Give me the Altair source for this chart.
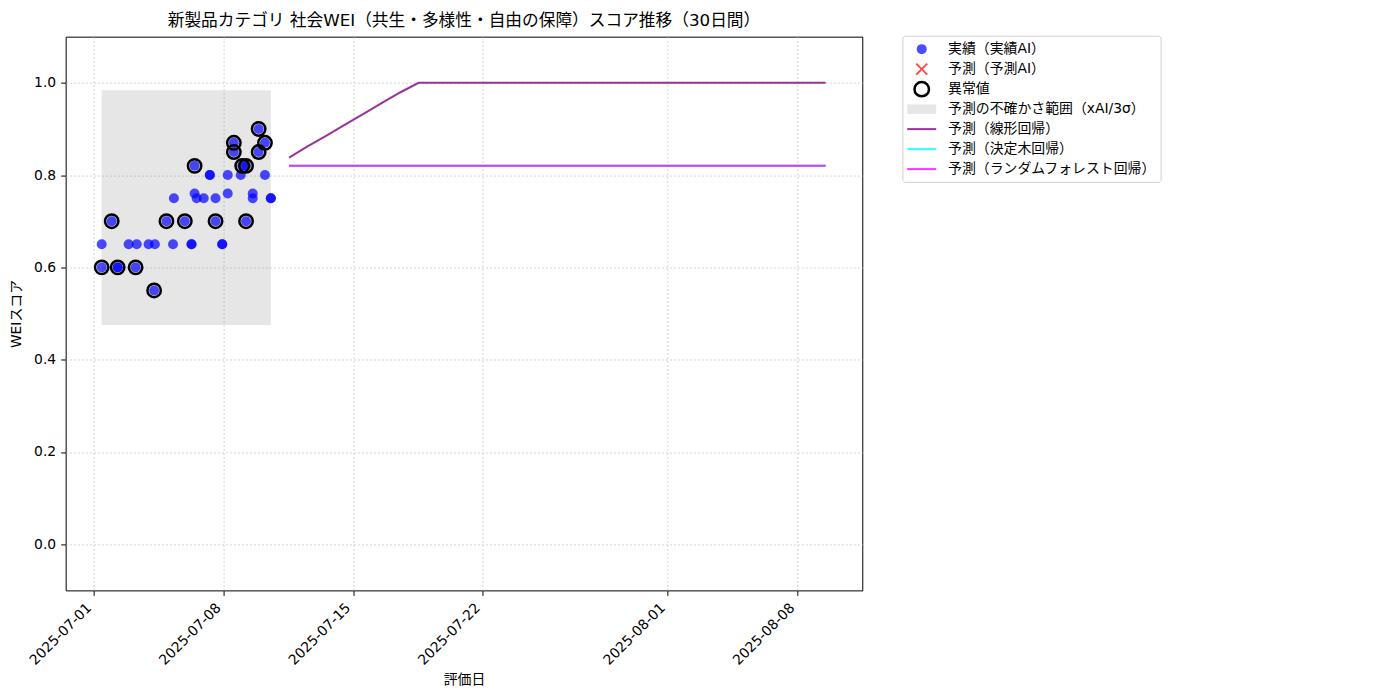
import altair as alt
import pandas as pd

F = "DejaVu Sans, Noto Sans CJK JP"

# ---- series names ----
names = ["実績（実績AI）", "予測（予測AI）", "異常値", "予測の不確かさ範囲（xAI/3σ）",
         "予測（線形回帰）", "予測（決定木回帰）", "予測（ランダムフォレスト回帰）"]

# ---- actual observations (実績AI) ----
act_dates = [
    "2025-07-01T10:00", "2025-07-01T10:00", "2025-07-01T23:00", "2025-07-02T06:45", "2025-07-02T06:45",
    "2025-07-02T21:00", "2025-07-03T06:00", "2025-07-03T07:30", "2025-07-03T22:50", "2025-07-04T06:00",
    "2025-07-04T07:00", "2025-07-04T22:00", "2025-07-05T06:30", "2025-07-05T07:40", "2025-07-05T21:50",
    "2025-07-06T06:30", "2025-07-06T06:30", "2025-07-06T10:30", "2025-07-06T10:30", "2025-07-06T13:10",
    "2025-07-06T22:20", "2025-07-07T06:15", "2025-07-07T06:15", "2025-07-07T13:40", "2025-07-07T13:40",
    "2025-07-07T22:20", "2025-07-07T22:20", "2025-07-08T05:30", "2025-07-08T05:30", "2025-07-08T13:25",
    "2025-07-08T13:25", "2025-07-08T22:20", "2025-07-09T00:15", "2025-07-09T05:15", "2025-07-09T05:15",
    "2025-07-09T13:55", "2025-07-09T13:55", "2025-07-09T21:35", "2025-07-09T21:35", "2025-07-10T05:45",
    "2025-07-10T05:45", "2025-07-10T13:25", "2025-07-10T13:25",
]
act_scores = [
    0.60, 0.65, 0.70, 0.60, 0.60,
    0.65, 0.60, 0.65, 0.65, 0.55,
    0.65, 0.70, 0.65, 0.75, 0.70,
    0.65, 0.65, 0.82, 0.76, 0.75,
    0.75, 0.80, 0.80, 0.70, 0.75,
    0.65, 0.65, 0.80, 0.76, 0.85,
    0.87, 0.80, 0.82, 0.82, 0.70,
    0.76, 0.75, 0.85, 0.90, 0.87,
    0.80, 0.75, 0.75,
]
act_anomaly = [
    True, False, True, True, False,
    False, True, False, False, True,
    False, True, False, False, True,
    False, False, True, False, False,
    False, False, False, True, False,
    False, False, False, False, True,
    True, False, True, True, True,
    False, False, True, True, True,
    False, False, False,
]

# ---- uncertainty band ----
band_start = ["2025-07-01T10:00"]
band_end = ["2025-07-10T13:25"]
band_lower = [0.475]
band_upper = [0.984]

# ---- forecasts (30 days) ----
fc_dates = [
    "2025-07-11T13:00", "2025-07-12T13:00", "2025-07-13T13:00", "2025-07-14T13:00", "2025-07-15T13:00",
    "2025-07-16T13:00", "2025-07-17T13:00", "2025-07-18T13:00", "2025-07-19T13:00", "2025-07-20T13:00",
    "2025-07-21T13:00", "2025-07-22T13:00", "2025-07-23T13:00", "2025-07-24T13:00", "2025-07-25T13:00",
    "2025-07-26T13:00", "2025-07-27T13:00", "2025-07-28T13:00", "2025-07-29T13:00", "2025-07-30T13:00",
    "2025-07-31T13:00", "2025-08-01T13:00", "2025-08-02T13:00", "2025-08-03T13:00", "2025-08-04T13:00",
    "2025-08-05T13:00", "2025-08-06T13:00", "2025-08-07T13:00", "2025-08-08T13:00", "2025-08-09T13:00",
]
fc_linear = [0.838, 0.862, 0.885, 0.909, 0.932, 0.956, 0.979, 1.0, 1.0, 1.0,
             1.0, 1.0, 1.0, 1.0, 1.0, 1.0, 1.0, 1.0, 1.0, 1.0,
             1.0, 1.0, 1.0, 1.0, 1.0, 1.0, 1.0, 1.0, 1.0, 1.0]
fc_tree = [0.82, 0.82, 0.82, 0.82, 0.82, 0.82, 0.82, 0.82, 0.82, 0.82,
           0.82, 0.82, 0.82, 0.82, 0.82, 0.82, 0.82, 0.82, 0.82, 0.82,
           0.82, 0.82, 0.82, 0.82, 0.82, 0.82, 0.82, 0.82, 0.82, 0.82]
fc_forest = [0.82, 0.82, 0.82, 0.82, 0.82, 0.82, 0.82, 0.82, 0.82, 0.82,
             0.82, 0.82, 0.82, 0.82, 0.82, 0.82, 0.82, 0.82, 0.82, 0.82,
             0.82, 0.82, 0.82, 0.82, 0.82, 0.82, 0.82, 0.82, 0.82, 0.82]

x_ticks = ["2025-07-01", "2025-07-08", "2025-07-15", "2025-07-22", "2025-08-01", "2025-08-08"]
y_ticks = [0.0, 0.2, 0.4, 0.6, 0.8, 1.0]

# ---- tables ----
df_act = pd.DataFrame({"date": act_dates, "score": act_scores})
df_anom = pd.DataFrame({"date": [d for d, a in zip(act_dates, act_anomaly) if a],
                        "score": [s for s, a in zip(act_scores, act_anomaly) if a]})
df_band = pd.DataFrame({"start": band_start, "end": band_end, "lower": band_lower, "upper": band_upper})
df_lin = pd.DataFrame({"date": fc_dates, "score": fc_linear})
df_tree = pd.DataFrame({"date": fc_dates, "score": fc_tree})
df_rf = pd.DataFrame({"date": fc_dates, "score": fc_forest})

# ---- scales / axes ----
x_scale = alt.Scale(domain=[alt.DateTime(year=2025, month=6, date=29, hours=11, minutes=17),
                            alt.DateTime(year=2025, month=8, date=11, hours=12, minutes=29)])
x_axis = alt.Axis(values=[alt.DateTime(year=int(t[:4]), month=int(t[5:7]), date=int(t[8:])) for t in x_ticks],
                  format="%Y-%m-%d", labelAngle=315, labelAlign="right", labelBaseline="middle",
                  labelOffset=-5, labelPadding=10, title="評価日", titlePadding=5)
y_scale = alt.Scale(domain=[-0.1, 1.1], nice=False, zero=False)
y_axis = alt.Axis(values=y_ticks, format=".1f", title="WEIスコア", labelPadding=5, titlePadding=10)


def xy():
    return dict(x=alt.X("date:T", scale=x_scale, axis=x_axis),
                y=alt.Y("score:Q", scale=y_scale, axis=y_axis))


band = alt.Chart(df_band).mark_rect(color="gray", opacity=0.2).encode(
    x=alt.X("start:T", scale=x_scale, axis=x_axis), x2="end:T",
    y=alt.Y("lower:Q", scale=y_scale, axis=y_axis), y2="upper:Q",
)
pts = alt.Chart(df_act).mark_circle(color="#0000ff", size=100, opacity=0.7).encode(**xy())
rings = alt.Chart(df_anom).mark_point(shape="circle", filled=False, color="black", size=180,
                                      strokeWidth=2.5, opacity=1).encode(**xy())
line_lin = alt.Chart(df_lin).mark_line(color="#800080", strokeWidth=2, opacity=0.8).encode(**xy())
line_tree = alt.Chart(df_tree).mark_line(color="#00ffff", strokeWidth=2, opacity=0.8).encode(**xy())
line_rf = alt.Chart(df_rf).mark_line(color="#ff00ff", strokeWidth=2, opacity=0.8).encode(**xy())

main = alt.layer(band, pts, rings, line_lin, line_tree, line_rf)

# ---- legend (drawn beside the plot, rows placed by a point scale) ----
leg_y = alt.Y("label:N", axis=None,
              scale=alt.Scale(type="point", domain=names, range=[12.5, 132.5], padding=0))
SYM_X = 856.5
LAB_X = 882.8


def leg_df(idx):
    return pd.DataFrame({"label": [names[i] for i in idx]})


leg_box = alt.Chart(pd.DataFrame({"k": [0]})).mark_rect(
    fill="white", stroke="#d0d0d0", strokeWidth=1, cornerRadius=3
).encode(x=alt.value(837.6), x2=alt.value(1096), y=alt.value(-0.5), y2=alt.value(145.8))
leg_actual = alt.Chart(leg_df([0])).mark_point(
    shape="circle", filled=True, color="#0000ff", size=100, opacity=0.7
).encode(x=alt.value(SYM_X), y=leg_y)
leg_pred = alt.Chart(leg_df([1])).mark_point(
    shape="M-1,-1L1,1M-1,1L1,-1", filled=False, color="#ff0000", size=121, strokeWidth=2, opacity=0.7
).encode(x=alt.value(SYM_X), y=leg_y)
leg_anom = alt.Chart(leg_df([2])).mark_point(
    shape="circle", filled=False, color="black", size=210, strokeWidth=2.5, opacity=1
).encode(x=alt.value(SYM_X), y=leg_y)
leg_band = alt.Chart(leg_df([3])).mark_point(
    shape="M-1,-0.33L1,-0.33L1,0.33L-1,0.33Z", filled=True, color="gray", size=841, opacity=0.2
).encode(x=alt.value(SYM_X), y=leg_y)
leg_lines = alt.Chart(leg_df([4, 5, 6])).mark_point(
    shape="stroke", filled=False, size=841, strokeWidth=2, opacity=0.8
).encode(x=alt.value(SYM_X), y=leg_y,
         stroke=alt.Stroke("label:N", legend=None,
                           scale=alt.Scale(domain=names[4:], range=["#800080", "#00ffff", "#ff00ff"])))
leg_text = alt.Chart(leg_df(range(7))).mark_text(
    align="left", baseline="middle", font=F, fontSize=13.9, color="black"
).encode(x=alt.value(LAB_X), y=leg_y, text="label:N")

legend_layer = alt.layer(leg_box, leg_actual, leg_pred, leg_anom, leg_band, leg_lines, leg_text)

chart = alt.layer(main, legend_layer).resolve_scale(y="independent", stroke="independent").properties(
    width=797, height=554, autosize="none",
    padding={"left": 57.7, "top": 28.5, "right": 530, "bottom": 100},
    title=alt.TitleParams(
        "新製品カテゴリ 社会WEI（共生・多様性・自由の保障）スコア推移（30日間）",
        font=F, fontSize=16.7, fontWeight="normal", color="black",
        anchor="middle", frame="group", offset=6),
).configure(background="white", font=F).configure_view(
    stroke="black", strokeWidth=1
).configure_axis(
    grid=True, gridDash=[2, 2], gridColor="#c8c8c8", gridWidth=0.8,
    domain=False, tickColor="black", tickSize=5, tickWidth=1,
    labelFont=F, labelFontSize=13.9, labelColor="black",
    titleFont=F, titleFontSize=13.9, titleFontWeight="normal", titleColor="black",
)

chart.save("out.html", embed_options={"renderer": "svg", "actions": False})
